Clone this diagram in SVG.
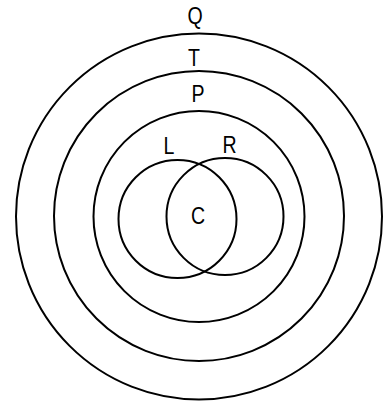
<svg xmlns="http://www.w3.org/2000/svg" width="386" height="408" viewBox="0 0 386 408">
<style>
.c{fill:none;stroke:#000;stroke-width:2}
.t{font-family:"Liberation Sans",Arial,sans-serif;font-size:23px;fill:#000;text-anchor:middle}
</style>
<rect width="386" height="408" fill="#fff"/>
<g id="Q"><circle class="c" cx="199" cy="216.5" r="183"/><text class="t" transform="translate(195,24) scale(0.85,1)">Q</text></g>
<g id="T"><circle class="c" cx="199" cy="216" r="145"/><text class="t" transform="translate(194,66) scale(0.85,1)">T</text></g>
<g id="P"><circle class="c" cx="199" cy="216.5" r="105.5"/><text class="t" transform="translate(198,102) scale(0.85,1)">P</text></g>
<g id="L"><circle class="c" cx="177.5" cy="219" r="59"/><text class="t" transform="translate(169,154) scale(0.85,1)">L</text></g>
<g id="R"><circle class="c" cx="225" cy="216.5" r="58.5"/><text class="t" transform="translate(229.5,153) scale(0.85,1)">R</text></g>
<g id="C"><text class="t" transform="translate(198,224) scale(0.85,1)">C</text></g>
<g id="connectors"></g>
</svg>
